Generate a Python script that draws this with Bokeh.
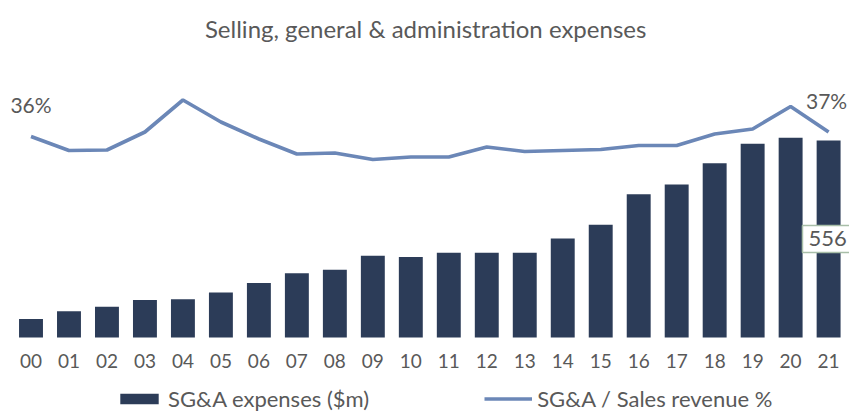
from bokeh.plotting import figure
from bokeh.models import (Range1d, FixedTicker, Legend, LegendItem,
                          Label, ColumnDataSource)
from bokeh.embed import file_html
from bokeh.resources import INLINE

years = ["00", "01", "02", "03", "04", "05", "06", "07", "08", "09", "10",
         "11", "12", "13", "14", "15", "16", "17", "18", "19", "20", "21"]
sga_expenses = [52, 74, 87, 106, 108, 127, 154, 181, 191, 231, 227,
                239, 239, 239, 279, 318, 404, 432, 492, 547, 564, 556]
sga_pct = [36.0, 33.2, 33.3, 36.9, 43.3, 38.9, 35.5, 32.5, 32.7, 31.4, 31.9,
           31.9, 33.9, 33.0, 33.2, 33.4, 34.2, 34.2, 36.5, 37.5, 42.0, 36.9]
title_text = "Selling, general & administration expenses"
first_label = "36%"
last_label = "37%"
last_bar_label = "556"

FONT = "Lato"
GREY = "#595959"
BAR = "#2C3C58"
LINE = "#6B87B7"

idx = list(range(len(years)))
src = ColumnDataSource(dict(x=idx, bars=sga_expenses, pct=sga_pct))

p = figure(frame_width=849, frame_height=412, output_backend="svg",
           toolbar_location=None,
           x_range=Range1d(-0.803, 21.55), y_range=Range1d(-211.7, 951),
           min_border_left=0, min_border_right=0, min_border_top=0,
           min_border_bottom=0)
p.extra_y_ranges = {"pct": Range1d(-19.2, 63.2)}
p.yaxis.visible = False
p.xgrid.visible = False
p.ygrid.visible = False
p.outline_line_color = None
p.background_fill_color = "white"
p.border_fill_color = "white"

bars = p.vbar(x="x", top="bars", width=0.63, bottom=0, source=src,
              fill_color=BAR, line_color=None)
line = p.line(x="x", y="pct", source=src, line_color=LINE, line_width=3.6,
              y_range_name="pct")

xa = p.xaxis[0]
xa.fixed_location = 0
xa.ticker = FixedTicker(ticks=idx)
xa.major_label_overrides = {i: y for i, y in zip(idx, years)}
xa.axis_line_color = None
xa.major_tick_line_color = None
xa.minor_tick_line_color = None
xa.major_label_text_font = FONT
xa.major_label_text_font_size = "19px"
xa.major_label_text_color = GREY
xa.major_label_standoff = 11

# title
p.add_layout(Label(x=10.39, y=57.7, y_range_name="pct", text=title_text,
                   text_font=FONT, text_font_size="24px", text_color=GREY,
                   text_align="center", text_baseline="middle"))
# percent labels
p.add_layout(Label(x=idx[0], y=sga_pct[0], y_range_name="pct", text=first_label,
                   y_offset=32, text_font=FONT, text_font_size="21px",
                   text_color=GREY, text_align="center", text_baseline="middle"))
p.add_layout(Label(x=idx[-1], y=sga_pct[-1], y_range_name="pct", text=last_label,
                   x_offset=-2, y_offset=32, text_font=FONT, text_font_size="21px",
                   text_color=GREY, text_align="center", text_baseline="middle"))
# value label on last bar
p.add_layout(Label(x=idx[-1], y=sga_expenses[-1] / 2, text=last_bar_label,
                   x_offset=-1, text_font=FONT, text_font_size="22px",
                   text_color=GREY, text_align="center", text_baseline="middle",
                   background_fill_color="white", border_line_color="#A8BEA8",
                   border_line_width=1.5, padding=6))

legend = Legend(items=[LegendItem(label="SG&A expenses ($m)", renderers=[bars]),
                       LegendItem(label="SG&A / Sales revenue %", renderers=[line])],
                orientation="horizontal", location=(115, 0), spacing=115,
                glyph_width=48, glyph_height=13, label_height=22,
                label_standoff=5,
                label_text_font=FONT, label_text_font_size="22px",
                label_text_color=GREY, border_line_color=None,
                background_fill_alpha=0, padding=0, margin=0)
p.add_layout(legend, "center")

open("out.html", "w").write(file_html(p, INLINE))
